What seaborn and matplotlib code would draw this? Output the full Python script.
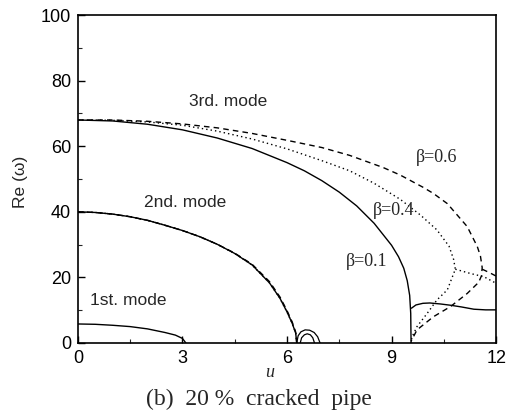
import numpy as np
import pandas as pd
import matplotlib
matplotlib.use("Agg")
import matplotlib.pyplot as plt
import seaborn as sns
from matplotlib.ticker import MultipleLocator

# ---- data ----
# Mode 1 (all beta coincide)
m1_u = [0, 0.5, 1.0, 1.5, 2.0, 2.5, 2.8, 3.0, 3.1]
m1_w = [5.8, 5.7, 5.4, 5.0, 4.3, 3.2, 2.4, 1.4, 0.0]

# Mode 2
m2_u = [0, 0.5, 1, 1.5, 2, 2.5, 3, 3.5, 4, 4.5, 5, 5.5, 5.8, 6.0, 6.15, 6.25, 6.28]
m2_w = [40, 39.8, 39.3, 38.5, 37.4, 35.9, 34.3, 32.4, 30.1, 27.3, 23.8, 18.3, 13.6, 9.5, 6.0, 3.0, 0.0]
m2_w06 = [40, 39.8, 39.3, 38.5, 37.4, 35.9, 34.3, 32.4, 30.1, 27.4, 24.0, 18.7, 14.0, 9.9, 6.4, 3.3, 0.0]

# small loops past u = 2*pi
loopA_u = [6.28, 6.32, 6.40, 6.52, 6.65, 6.78, 6.88, 6.95]
loopA_w = [0.0, 2.2, 3.4, 4.0, 3.9, 3.2, 1.9, 0.0]
loopB_u = [6.38, 6.42, 6.50, 6.58, 6.67, 6.74, 6.79]
loopB_w = [0.0, 1.6, 2.5, 2.8, 2.5, 1.6, 0.0]

# Mode 3, beta = 0.1 (solid)
m3a_u = [0, 1, 2, 3, 4, 5, 6, 6.5, 7, 7.5, 8, 8.5, 9, 9.2, 9.35, 9.45, 9.52, 9.55, 9.56]
m3a_w = [68, 67.7, 66.7, 65.0, 62.5, 59.3, 55.0, 52.5, 49.5, 46.0, 41.8, 36.5, 29.8, 26.3, 22.8, 19.0, 14.5, 9.0, 0.0]
m3a_bu = [9.57, 9.7, 9.9, 10.1, 10.4, 10.7, 11.0, 11.36, 11.7, 12.0]
m3a_bw = [10.6, 11.6, 12.1, 12.2, 11.9, 11.5, 11.0, 10.3, 10.1, 10.1]

# Mode 3, beta = 0.4 (dotted)
m3b_u = [0, 1, 2, 3, 4, 5, 6, 7, 7.8, 8.5, 9.25, 9.83, 10.3, 10.65, 10.78, 10.83,
         10.6, 10.3, 10.02, 9.73, 9.59, 9.55]
m3b_w = [68, 67.9, 67.4, 66.4, 64.6, 62.2, 59.2, 55.6, 52.5, 48.7, 43.8, 39.0, 34.5, 29.5, 25.5, 22.5,
         16.2, 13.1, 9.0, 5.0, 1.9, 0.0]
m3b_bu = [10.83, 11.26, 11.65, 12.0]
m3b_bw = [22.5, 21.2, 20.2, 18.2]

# Mode 3, beta = 0.6 (dashed)
m3c_u = [0, 1, 2, 3, 4, 5, 6, 7, 7.8, 8.76, 9.25, 9.9, 10.2, 10.6, 11.17, 11.46, 11.55, 11.6,
         11.58, 11.5, 11.17, 10.69, 10.2, 9.73, 9.56]
m3c_w = [68, 68, 67.6, 66.8, 65.6, 63.9, 61.8, 59.6, 57.2, 53.5, 51.2, 47.5, 45.6, 42.5, 35.5, 29.4, 26.5, 23.0,
         20.5, 18.5, 15.1, 11.1, 8.0, 4.0, 0.5]
m3c_bu = [11.6, 11.8, 12.0]
m3c_bw = [22.5, 21.5, 20.4]

x_ticks = [0, 3, 6, 9, 12]
y_ticks = [0, 20, 40, 60, 80, 100]

# ---- plotting ----
sns.set_theme(style="white")
plt.rcParams['font.family'] = ['Liberation Sans', 'DejaVu Sans']

fig = plt.figure(figsize=(5.12, 4.12), dpi=100)
ax = fig.add_axes([0.152, 0.1675, 0.817, 0.796])

def draw(u, w, ls, lw=1.0):
    df = pd.DataFrame({"u": u, "w": w})
    sns.lineplot(data=df, x="u", y="w", sort=False, estimator=None, ax=ax,
                 color="black", linestyle=ls, linewidth=lw)

solid = "-"
dotted = (0, (1, 2.2))
dashed = (0, (4, 3))

draw(m1_u, m1_w, solid)
draw(m2_u, m2_w06, dashed)
draw(m2_u, m2_w, dotted)
draw(m2_u, m2_w, solid)
draw(loopA_u, loopA_w, solid, 0.9)
draw(loopB_u, loopB_w, solid, 0.9)

draw(m3a_u, m3a_w, solid)
draw(m3a_bu, m3a_bw, solid)
draw(m3b_u, m3b_w, dotted)
draw(m3b_bu, m3b_bw, dotted)
draw(m3c_u, m3c_w, dashed)
draw(m3c_bu, m3c_bw, dashed)

ax.set_xlim(0, 12)
ax.set_ylim(0, 100)
ax.set_xticks(x_ticks)
ax.set_yticks(y_ticks)
ax.xaxis.set_minor_locator(MultipleLocator(1.5))
ax.yaxis.set_minor_locator(MultipleLocator(10))
ax.tick_params(axis="both", which="major", direction="in", length=5, width=1,
               labelsize=13, bottom=True, left=True, top=False, right=False, colors="black")
ax.tick_params(axis="both", which="minor", direction="in", length=3, width=0.8,
               bottom=True, left=True, top=False, right=False)
ax.tick_params(axis="x", pad=5)
ax.tick_params(axis="y", pad=5)
for s in ax.spines.values():
    s.set_color("black")
    s.set_linewidth(1.2)

ax.set_xlabel("u", fontfamily="Liberation Serif", fontstyle="italic", fontsize=13)
ax.xaxis.set_label_coords((270 - 78) / 418, (343 - 364) / 328)
ax.set_ylabel("Re (ω)", fontsize=12.5)
ax.yaxis.set_label_coords((28 - 78) / 418, (343 - 182) / 328)

ax.text(4.31, 73.5, "3rd. mode", fontsize=12.5, ha="center", va="center")
ax.text(3.07, 42.7, "2nd. mode", fontsize=12.5, ha="center", va="center")
ax.text(1.44, 13.1, "1st. mode", fontsize=12.5, ha="center", va="center")
ax.text(10.29, 56.6, "β=0.6", fontfamily="Liberation Serif", fontsize=13, ha="center", va="center")
ax.text(9.05, 40.5, "β=0.4", fontfamily="Liberation Serif", fontsize=13, ha="center", va="center")
ax.text(8.3, 25.0, "β=0.1", fontfamily="Liberation Serif", fontsize=13, ha="center", va="center")

fig.text(259 / 512, 1 - 399 / 412, "(b)  20 %  cracked  pipe", fontfamily="Liberation Serif",
         fontsize=17, ha="center", va="center")

fig.savefig("out.png", dpi=100)
